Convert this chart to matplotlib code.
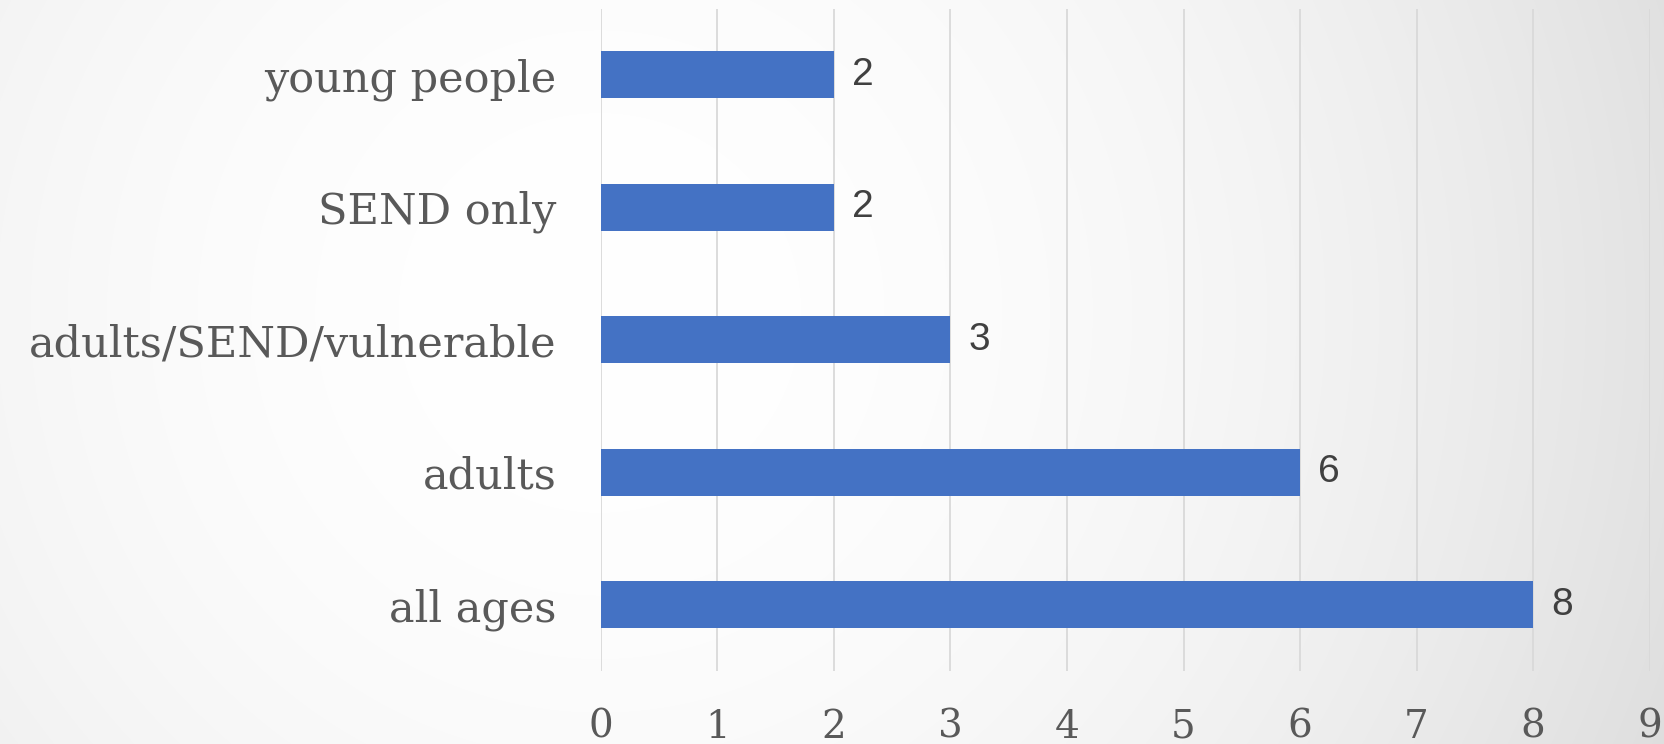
import numpy as np
import matplotlib
matplotlib.use("Agg")
import matplotlib.pyplot as plt

categories = ["all ages", "adults", "adults/SEND/vulnerable", "SEND only", "young people"]
values = [8, 6, 3, 2, 2]
xticks = [0, 1, 2, 3, 4, 5, 6, 7, 8, 9]

W, H, DPI = 1665, 744, 100
fig = plt.figure(figsize=(W / DPI, H / DPI), dpi=DPI)

# background radial gradient
bg = fig.add_axes([0, 0, 1, 1], zorder=-10)
yy, xx = np.mgrid[0:H, 0:W]
cx, cy = 0.36 * W, 0.42 * H
r = np.sqrt(((xx - cx) / W) ** 2 + ((yy - cy) / H * 0.45) ** 2)
val = 1.0 - 0.11 * np.clip(r / 0.64, 0, 1.2) ** 2
img = np.dstack([val, val, val])
bg.imshow(img, aspect="auto", extent=[0, 1, 0, 1], origin="upper")
bg.axis("off")

ax = fig.add_axes([601 / W, 1 - 671 / H, (1649.5 - 601) / W, (671 - 8.5) / H])
ax.patch.set_alpha(0)
y = np.arange(len(categories))
ax.barh(y, values, height=0.353, color="#4472C4", zorder=3)
ax.set_xlim(0, 9)
ax.set_ylim(-0.5, 4.5)
ax.set_xticks(xticks)
ax.set_yticks(y)
ax.set_yticklabels(categories, family="DejaVu Serif", fontsize=31, color="#595959")
ax.set_xticklabels([str(t) for t in xticks], family="DejaVu Serif", fontsize=28, color="#595959")
ax.tick_params(axis="y", length=0, pad=32)
ax.tick_params(axis="x", length=0, pad=27)
ax.grid(axis="x", color="#D9D9D9", linewidth=1.3, zorder=0)
for s in ax.spines.values():
    s.set_visible(False)

for yi, v in zip(y, values):
    ax.annotate(str(v), (v, yi), xytext=(13, 0), textcoords="offset points",
                ha="left", va="center", fontsize=28, color="#404040",
                family="Liberation Sans")

fig.savefig("out.png", dpi=DPI)
